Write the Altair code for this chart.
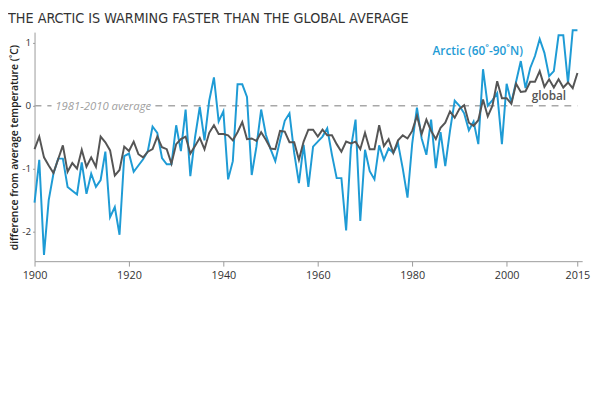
import altair as alt
import pandas as pd

years = list(range(1900, 2016))
arctic = [
    -1.54, -0.86, -2.37, -1.50, -1.08, -0.84, -0.84, -1.29, -1.35, -1.41,
    -0.90, -1.40, -1.08, -1.29, -1.18, -0.73, -1.77, -1.61, -2.05, -0.80,
    -0.76, -1.05, -0.95, -0.85, -0.72, -0.33, -0.43, -0.83, -0.93, -0.93,
    -0.31, -0.72, -0.06, -1.12, -0.50, -0.02, -0.55, 0.08, 0.45, -0.25,
    -0.09, -1.17, -0.88, 0.34, 0.34, 0.14, -1.10, -0.65, -0.06, -0.46,
    -0.69, -0.88, -0.55, -0.24, -0.12, -0.75, -1.23, -0.62, -1.29, -0.65,
    -0.57, -0.49, -0.36, -0.78, -1.15, -1.15, -1.98, -0.68, -0.22, -1.83,
    -0.70, -1.04, -1.17, -0.63, -0.86, -0.68, -0.75, -0.60, -1.00, -1.46,
    -0.60, -0.03, -0.52, -0.78, -0.22, -0.99, -0.42, -0.96, -0.40, 0.08,
    0.00, -0.12, -0.39, -0.25, -0.61, 0.58, 0.00, 0.09, 0.20, -0.61,
    0.35, 0.05, 0.38, 0.71, 0.28, 0.60, 0.79, 1.06, 0.84, 0.47,
    0.55, 1.12, 1.12, 0.36, 1.20, 1.20,
]
glob = [
    -0.69, -0.49, -0.82, -0.95, -1.07, -0.85, -0.63, -1.05, -0.91, -1.00,
    -0.70, -0.97, -0.82, -0.97, -0.49, -0.58, -0.71, -1.11, -1.02, -0.65,
    -0.72, -0.57, -0.77, -0.82, -0.73, -0.69, -0.49, -0.66, -0.69, -0.92,
    -0.61, -0.53, -0.49, -0.76, -0.64, -0.51, -0.69, -0.43, -0.31, -0.45,
    -0.45, -0.47, -0.55, -0.42, -0.26, -0.53, -0.52, -0.56, -0.42, -0.54,
    -0.68, -0.69, -0.40, -0.41, -0.58, -0.58, -0.86, -0.57, -0.38, -0.38,
    -0.49, -0.38, -0.47, -0.47, -0.61, -0.73, -0.57, -0.60, -0.57, -0.69,
    -0.43, -0.69, -0.69, -0.31, -0.64, -0.53, -0.75, -0.55, -0.47, -0.52,
    -0.40, -0.16, -0.45, -0.22, -0.40, -0.53, -0.35, -0.27, -0.09, -0.19,
    -0.05, 0.01, -0.27, -0.32, -0.23, 0.10, -0.17, 0.00, 0.39, 0.12,
    0.12, 0.03, 0.35, 0.22, 0.23, 0.38, 0.38, 0.55, 0.30, 0.42,
    0.29, 0.42, 0.29, 0.37, 0.28, 0.52,
]
x_ticks = [1900, 1920, 1940, 1960, 1980, 2000, 2015]
y_ticks = [1, 0, -1, -2]

title = "THE ARCTIC IS WARMING FASTER THAN THE GLOBAL AVERAGE"
y_title = "difference from average temperature (˚C)"

df = pd.DataFrame({
    "year": years * 2,
    "value": arctic + glob,
    "series": ["Arctic"] * len(years) + ["global"] * len(years),
})

xscale = alt.Scale(domain=[1900, 2016], nice=False, zero=False)
yscale = alt.Scale(domain=[-2.47, 1.17], nice=False, zero=False)

base_x = alt.X("year:Q", scale=xscale,
               axis=alt.Axis(values=x_ticks, format="d", title=None, grid=False,
                             domainColor="#9a9a9a", tickColor="#9a9a9a", tickSize=5,
                             labelColor="#333", labelFont="Open Sans", labelFontSize=11,
                             labelPadding=4, labelFlush=False))
base_y = alt.Y("value:Q", scale=yscale,
               axis=alt.Axis(values=y_ticks, labelExpr="'' + datum.value", title=y_title,
                             grid=False, domainColor="#9a9a9a", tickColor="#9a9a9a", tickSize=2,
                             labelColor="#333", labelFont="Open Sans", labelFontSize=10,
                             labelPadding=2, titleFont="Open Sans", titleFontSize=10.5,
                             titleFontWeight=600, titleColor="#222",
                             titleX=-20, titleY=117, titleAngle=270, titleAlign="center",
                             titleBaseline="middle"))

# zero reference line split around its label
ref = pd.DataFrame({"x": [1900, 1925.6], "x2": [1903.6, 2015], "y": [0, 0]})
rules = alt.Chart(ref).mark_rule(color="#a8a8a8", strokeDash=[7, 6], strokeWidth=1.5).encode(
    x=alt.X("x:Q", scale=xscale), x2="x2:Q", y=alt.Y("y:Q", scale=yscale)
)
reflabel = alt.Chart(pd.DataFrame({"x": [1904.4], "y": [0], "t": ["1981-2010 average"]})).mark_text(
    align="left", baseline="middle", font="Open Sans", fontSize=11.5, fontStyle="italic",
    color="#a0a0a0", dy=1
).encode(x=alt.X("x:Q", scale=xscale), y=alt.Y("y:Q", scale=yscale), text="t:N")

lines = alt.Chart(df).mark_line(strokeWidth=2).encode(
    x=base_x, y=base_y,
    color=alt.Color("series:N", scale=alt.Scale(domain=["Arctic", "global"],
                                                  range=["#1e9bd5", "#555555"]), legend=None),
    order="year:Q",
)

lab = pd.DataFrame({"x": [1984.3, 2005.3], "y": [0.87, 0.15],
                    "t": ["Arctic (60˚-90˚N)", "global"], "series": ["Arctic", "global"]})
labels = alt.Chart(lab).mark_text(align="left", baseline="middle", font="Open Sans",
                                   fontSize=12, fontWeight=600).encode(
    x=alt.X("x:Q", scale=xscale), y=alt.Y("y:Q", scale=yscale), text="t:N",
    color=alt.Color("series:N", scale=alt.Scale(domain=["Arctic", "global"],
                                                  range=["#2aa0d4", "#808080"]), legend=None),
)

chart = alt.layer(rules, reflabel, lines, labels).properties(
    width=557, height=233,
    title=alt.TitleParams(title, anchor="start", frame="group",
                          font="Liberation Sans Narrow, DejaVu Sans Condensed, sans-serif",
                          fontSize=14.5, fontWeight="normal", color="#333", dx=-27, offset=0),
    autosize=alt.AutoSizeParams(type="none"),
    padding={"left": 27, "top": 22, "right": 10, "bottom": 40},
).configure_view(stroke=None)

chart.save("out.html", embed_options={"renderer": "svg", "actions": False})
